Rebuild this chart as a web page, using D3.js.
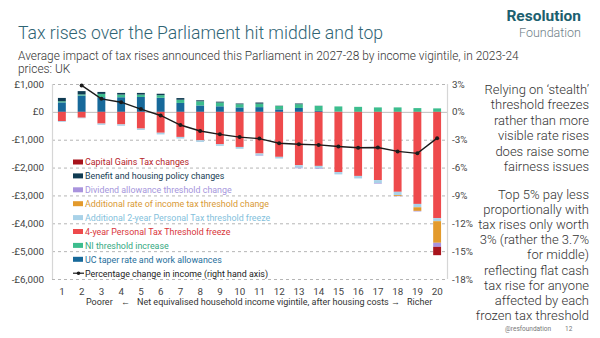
<!DOCTYPE html>
<html>
<head>
<meta charset="utf-8">
<script src="https://cdn.jsdelivr.net/npm/d3@7"></script>
<style>
  body { margin: 0; background: #fff; }
  svg { font-family: Roboto, "Noto Sans", sans-serif; }
</style>
</head>
<body>
<div id="chart"></div>
<script>
// vigintiles 1..20
const vigintiles = d3.range(1, 21);

// £ per household, 2027-28, 2023-24 prices
const ucTaper       = [340, 585, 525, 525, 535, 505, 320, 230, 200, 160, 170, 90, 140, 35, 10, 0, 0, 0, 0, 0];
const niThreshold   = [40, 40, 120, 95, 85, 95, 115, 150, 135, 115, 125, 120, 135, 180, 185, 180, 160, 160, 135, 125];
const benefitHousing = [120, 120, 70, 60, 60, 50, 60, 35, 30, 25, 40, 10, 25, 5, 0, 0, 0, 0, 0, 0];
const fourYearFreeze = [-330, -210, -420, -450, -600, -750, -900, -1020, -1160, -1260, -1495, -1615, -1915, -1940, -2160, -2300, -2450, -2870, -3305, -3815];
const twoYearFreeze = [-30, -20, -45, -50, -50, -60, -60, -60, -60, -65, -70, -60, -90, -85, -85, -90, -110, -120, -120, -110];
const additionalRate = [0, 0, 0, 0, 0, 0, 0, 0, 0, 0, 0, 0, 0, 0, 0, 0, 0, -30, -130, -775];
const dividend      = [0, 0, 0, 0, 0, 0, 0, 0, 0, 0, -15, 0, -20, -20, 0, 0, -20, -10, -20, -145];
const capitalGains  = [0, 0, 0, 0, 0, 0, 0, 0, 0, 0, 0, 0, 0, 0, 0, 0, 0, 0, 0, -300];

// % change in income (right hand axis), no value for vigintile 1
const pctChange = [null, 2.85, 1.4, 1.04, 0.3, -0.39, -1.42, -2.06, -2.42, -2.72, -2.88, -3.38, -3.49, -3.56, -3.73, -3.86, -3.84, -4.26, -4.47, -2.83];

const leftTicks = [1000, 0, -1000, -2000, -3000, -4000, -5000, -6000];
const rightTicks = [3, 0, -3, -6, -9, -12, -15, -18];

// series, in stacking order
const series = [
  {key: "uc", name: "UC taper rate and work allowances", values: ucTaper, color: "#17699a", text: "#1f6f9c"},
  {key: "ni", name: "NI threshold increase", values: niThreshold, color: "#3dbd8e", text: "#35a982"},
  {key: "four", name: "4-year Personal Tax Threshold freeze", values: fourYearFreeze, color: "#ee4a4c", text: "#d9363b"},
  {key: "two", name: "Additional 2-year Personal Tax threshold freeze", values: twoYearFreeze, color: "#a9d2e8", text: "#84bfdc"},
  {key: "addrate", name: "Additional rate of income tax threshold change", values: additionalRate, color: "#e39a2b", text: "#d99a35"},
  {key: "div", name: "Dividend allowance threshold change", values: dividend, color: "#a993dd", text: "#a696dc"},
  {key: "ben", name: "Benefit and housing policy changes", values: benefitHousing, color: "#0f3b52", text: "#173e55"},
  {key: "cgt", name: "Capital Gains Tax changes", values: capitalGains, color: "#a8141c", text: "#b5232a"}
];

// legend order as in the picture
const legendOrder = ["cgt", "ben", "div", "addrate", "two", "four", "ni", "uc"];

const W = 600, H = 338;
const plot = {left: 52, right: 447, top: 84, bottom: 279};

const svg = d3.select("#chart")
  .append("svg")
    .attr("width", W)
    .attr("height", H);

// Title block
svg.append("text")
  .attr("x", 18).attr("y", 39)
  .style("font-size", "17.6px")
  .style("font-weight", 300)
  .style("fill", "#2f6474")
  .text("Tax rises over the Parliament hit middle and top");

svg.append("text")
  .attr("x", 18).attr("y", 60)
  .style("font-size", "11.9px")
  .style("font-weight", 300)
  .style("fill", "#333")
  .text("Average impact of tax rises announced this Parliament in 2027-28 by income vigintile, in 2023-24");
svg.append("text")
  .attr("x", 18).attr("y", 73)
  .style("font-size", "11.9px")
  .style("font-weight", 300)
  .style("fill", "#333")
  .text("prices: UK");

// Logo
svg.append("text")
  .attr("x", 581).attr("y", 21)
  .attr("text-anchor", "end")
  .style("font-size", "15.5px")
  .style("font-weight", 700)
  .style("fill", "#1c5f6f")
  .text("Resolution");
svg.append("text")
  .attr("x", 581).attr("y", 37)
  .attr("text-anchor", "end")
  .style("font-size", "12.5px")
  .style("font-weight", 300)
  .style("fill", "#6f8088")
  .text("Foundation");

// Scales
const x = d3.scaleBand()
  .domain(vigintiles)
  .range([plot.left, plot.right])
  .paddingInner(0.6)
  .paddingOuter(0.3);

const y = d3.scaleLinear()
  .domain([-6000, 1000])
  .range([plot.bottom, plot.top]);

const y2 = d3.scaleLinear()
  .domain([-18, 3])
  .range([plot.bottom, plot.top]);

// Gridlines
svg.append("g")
  .selectAll("line")
  .data(leftTicks)
  .join("line")
    .attr("x1", plot.left)
    .attr("x2", plot.right)
    .attr("y1", d => y(d) + 0.5)
    .attr("y2", d => y(d) + 0.5)
    .attr("stroke", d => d == 0 ? "#bdbdbd" : "#b5b5b5")
    .attr("stroke-width", 1)
    .attr("stroke-dasharray", d => d == 0 ? null : "3,3");

// axis frame lines
svg.append("line")
  .attr("x1", plot.left + 0.5).attr("x2", plot.left + 0.5)
  .attr("y1", plot.top).attr("y2", plot.bottom)
  .attr("stroke", "#d6d6d6").attr("stroke-width", 1.2);
svg.append("line")
  .attr("x1", plot.right + 0.5).attr("x2", plot.right + 0.5)
  .attr("y1", plot.top).attr("y2", plot.bottom)
  .attr("stroke", "#d6d6d6").attr("stroke-width", 1.2);

// Left axis
const fmt = d3.format(",");
const leftAxis = d3.axisLeft(y)
  .tickValues(leftTicks)
  .tickSize(0)
  .tickPadding(8)
  .tickFormat(d => d < 0 ? "-£" + fmt(-d) : "£" + fmt(d));
svg.append("g")
  .attr("transform", `translate(${plot.left},0)`)
  .call(leftAxis)
  .call(g => g.select(".domain").remove())
  .call(g => g.selectAll("text")
    .style("font-family", "Roboto, sans-serif")
    .style("font-size", "9.8px")
    .style("fill", "#444"));

// Right axis
const rightAxis = d3.axisRight(y2)
  .tickValues(rightTicks)
  .tickSize(0)
  .tickPadding(5)
  .tickFormat(d => d + "%");
svg.append("g")
  .attr("transform", `translate(${plot.right},0)`)
  .call(rightAxis)
  .call(g => g.select(".domain").remove())
  .call(g => g.selectAll("text")
    .style("font-family", "Roboto, sans-serif")
    .style("font-size", "9.8px")
    .style("fill", "#444"));

// Bottom axis
const bottomAxis = d3.axisBottom(x)
  .tickSize(0)
  .tickPadding(9);
svg.append("g")
  .attr("transform", `translate(0,${plot.bottom})`)
  .call(bottomAxis)
  .call(g => g.select(".domain").remove())
  .call(g => g.selectAll("text")
    .style("font-family", "Roboto, sans-serif")
    .style("font-size", "9.8px")
    .style("fill", "#444"));

// x axis title
const xTitle = svg.append("text")
  .attr("y", 305)
  .style("font-size", "9px")
  .style("fill", "#333");
xTitle.append("tspan").attr("x", 86).text("Poorer");
xTitle.append("tspan").attr("x", 121).text("\u2190");
xTitle.append("tspan").attr("x", 137).text("Net equivalised household income vigintile, after housing costs");
xTitle.append("tspan").attr("x", 391).text("\u2192");
xTitle.append("tspan").attr("x", 407).text("Richer");

// Stacked bars
const table = vigintiles.map((v, i) => {
  const row = {vigintile: v};
  series.forEach(s => row[s.key] = s.values[i]);
  return row;
});

const stacked = d3.stack()
  .keys(series.map(s => s.key))
  .offset(d3.stackOffsetDiverging)(table);

const colorOf = {};
series.forEach(s => colorOf[s.key] = s.color);

svg.append("g")
  .selectAll("g")
  .data(stacked)
  .join("g")
    .attr("fill", d => colorOf[d.key])
  .selectAll("rect")
  .data(d => d)
  .join("rect")
    .attr("x", d => x(d.data.vigintile))
    .attr("width", x.bandwidth())
    .attr("y", d => y(Math.max(d[0], d[1])))
    .attr("height", d => Math.abs(y(d[0]) - y(d[1])));

// Percentage change line
const linePts = vigintiles
  .map((v, i) => ({v: v, p: pctChange[i]}))
  .filter(d => d.p != null);

svg.append("path")
  .datum(linePts)
  .attr("fill", "none")
  .attr("stroke", "#1b1b1b")
  .attr("stroke-width", 1.4)
  .attr("d", d3.line()
    .x(d => x(d.v) + x.bandwidth() / 2)
    .y(d => y2(d.p)));

svg.append("g")
  .selectAll("circle")
  .data(linePts)
  .join("circle")
    .attr("cx", d => x(d.v) + x.bandwidth() / 2)
    .attr("cy", d => y2(d.p))
    .attr("r", 2)
    .attr("fill", "#1b1b1b");

// Legend
const legend = svg.append("g")
  .attr("transform", "translate(73,162)");

legendOrder.forEach((k, i) => {
  const s = series.find(d => d.key == k);
  const g = legend.append("g").attr("transform", `translate(0,${i * 13.9})`);
  g.append("rect")
    .attr("x", 0).attr("y", -2.5)
    .attr("width", 10).attr("height", 5)
    .attr("fill", s.color);
  g.append("text")
    .attr("x", 12).attr("y", 3.3)
    .style("font-size", "8.9px")
    .style("fill", s.text)
    .text(s.name);
});

const lg = legend.append("g").attr("transform", `translate(0,${8 * 13.9})`);
lg.append("line")
  .attr("x1", 0).attr("x2", 11)
  .attr("stroke", "#1b1b1b").attr("stroke-width", 1.2);
lg.append("circle")
  .attr("cx", 5.5).attr("r", 1.8).attr("fill", "#1b1b1b");
lg.append("text")
  .attr("x", 12).attr("y", 3.3)
  .style("font-size", "8.9px")
  .style("fill", "#222")
  .text("Percentage change in income (right hand axis)");

// Commentary on the right
const note1 = ["Relying on \u2018stealth\u2019", "threshold freezes", "rather than more",
  "visible rate rises", "does raise some", "fairness issues"];
const note2 = ["Top 5% pay less", "proportionally with", "tax rises only worth",
  "3% (rather the 3.7%", "for middle)", "reflecting flat cash", "tax rise for anyone",
  "affected by each", "frozen tax threshold"];

svg.append("g")
  .selectAll("text")
  .data(note1)
  .join("text")
    .attr("x", 589)
    .attr("y", (d, i) => 94 + i * 15.4)
    .attr("text-anchor", "end")
    .style("font-size", "13px")
    .style("font-weight", 300)
    .style("fill", "#333")
    .text(d => d);

svg.append("g")
  .selectAll("text")
  .data(note2)
  .join("text")
    .attr("x", 589)
    .attr("y", (d, i) => 199 + i * 15.1)
    .attr("text-anchor", "end")
    .style("font-size", "13px")
    .style("font-weight", 300)
    .style("fill", "#333")
    .text(d => d);

// footer
svg.append("text")
  .attr("x", 505).attr("y", 331)
  .style("font-size", "6.5px")
  .style("fill", "#777")
  .text("@resfoundation");
svg.append("text")
  .attr("x", 565).attr("y", 331)
  .style("font-size", "6.5px")
  .style("fill", "#777")
  .text("12");
</script>
</body>
</html>
